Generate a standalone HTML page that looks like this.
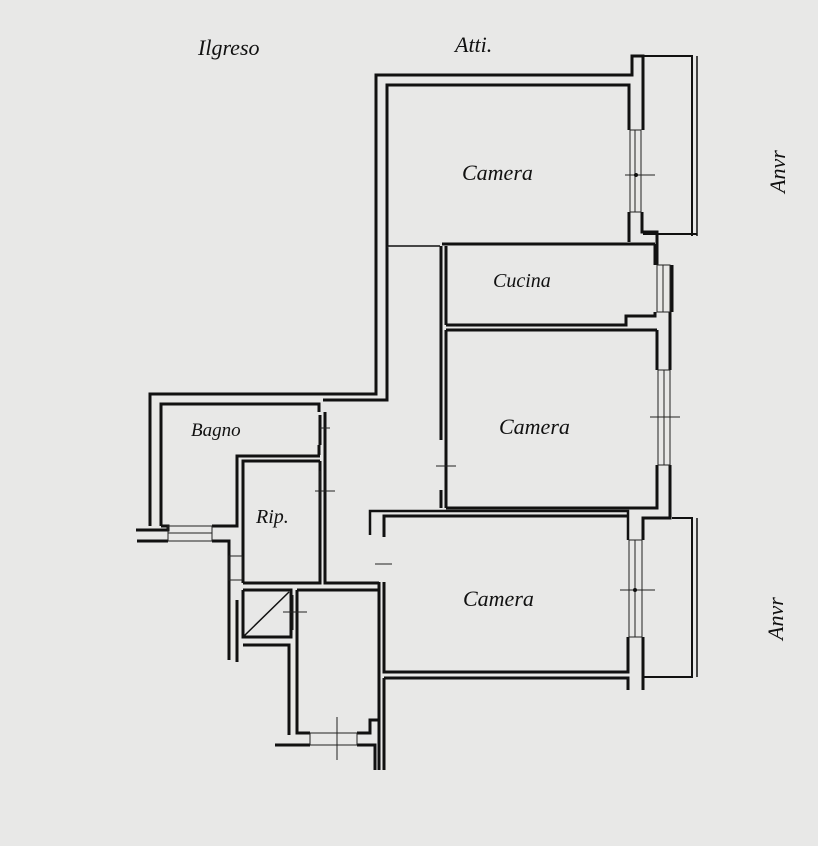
<!DOCTYPE html>
<html><head><meta charset="utf-8"><style>
html,body{margin:0;padding:0;background:#e8e8e7;}
svg{display:block}
text{font-family:"Liberation Serif",serif;font-style:italic;fill:#111}
</style></head><body>
<svg width="818" height="846" viewBox="0 0 818 846" xmlns="http://www.w3.org/2000/svg">
<rect width="818" height="846" fill="#e8e8e7"/>
<g fill="none" stroke="#111" stroke-width="3" stroke-linejoin="miter">
<!-- outer shell top -->
<polyline points="150,526 150,394 376,394 376,75 632,75 632,56 643,56 643,130"/>
<polyline points="161,526 161,404 319,404 319,412"/>
<polyline points="323,400 387,400 387,85 629,85 629,130"/>
<!-- top camera right -->
<polyline points="629,212 629,242"/>
<polyline points="642,212 642,232 657,232 657,265"/>
<!-- balcony top -->
<polyline points="643,56 692,56 692,236" stroke-width="2"/>
<line x1="697" y1="56" x2="697" y2="236" stroke-width="1.5"/>
<line x1="643" y1="234" x2="697" y2="234" stroke-width="2"/>
<!-- camera / cucina -->
<line x1="442" y1="244" x2="655" y2="244"/>
<line x1="388" y1="246" x2="440" y2="246" stroke-width="1.5"/>
<polyline points="655,244 655,265"/>
<polyline points="655,312 655,316 626,316 626,325 446,325"/>
<polyline points="672,265 672,312"/>
<polyline points="670,312 670,370"/>
<line x1="446" y1="330" x2="657" y2="330"/>
<polyline points="657,330 657,370"/>
<polyline points="657,465 657,508 446,508"/>
<polyline points="446,246 446,325"/>
<polyline points="441,246 441,440"/>
<polyline points="441,490 441,508"/>
<polyline points="446,330 446,508"/>
<polyline points="670,465 670,518 643,518 643,540"/>
<!-- camera 3 -->
<polyline points="370,535 370,511 628,511 628,540" stroke-width="2.5"/>
<polyline points="384,537 384,516 628,516"/>
<polyline points="628,637 628,672 384,672 384,582"/>
<polyline points="643,637 643,690"/>
<polyline points="379,582 379,770"/>
<polyline points="384,678 628,678 628,690"/>
<line x1="384" y1="678" x2="384" y2="770"/>
<!-- balcony bottom -->
<polyline points="672,518 692,518 692,677 643,677" stroke-width="2"/>
<line x1="697" y1="518" x2="697" y2="677" stroke-width="1.5"/>
<!-- bagno / rip -->
<line x1="319" y1="445" x2="319" y2="455"/>
<polyline points="161,526 161,526"/>
<polyline points="137,541 168,541"/>
<polyline points="212,541 229,541 229,660"/>
<polyline points="136,530 168,530 168,526 161,526"/>
<polyline points="212,526 237,526 237,456 320,456"/>
<polyline points="243,583 243,461 320,461"/>
<polyline points="320,461 320,583 243,583"/>
<polyline points="325,412 325,583 379,583"/>
<line x1="320" y1="415" x2="320" y2="445"/>
<!-- closet -->
<polyline points="243,590 291,590 291,637 243,637 243,590"/>
<line x1="244" y1="636" x2="289" y2="592" stroke-width="1.5"/>
<polyline points="243,645 289,645 289,735"/>
<polyline points="237,600 237,662"/>
<polyline points="297,590 379,590"/>
<polyline points="297,590 297,733 310,733"/>
<polyline points="357,733 370,733 370,720 379,720"/>
<polyline points="275,745 310,745"/>
<polyline points="357,745 375,745 375,770"/>
</g>
<!-- windows -->
<g stroke="#222" stroke-width="1" fill="none">
<rect x="630" y="130" width="11" height="82"/><line x1="635" y1="130" x2="635" y2="212"/>
<line x1="625" y1="175" x2="655" y2="175"/>
<rect x="657" y="265" width="13" height="47"/><line x1="663" y1="265" x2="663" y2="312"/>
<rect x="658" y="370" width="12" height="95"/><line x1="664" y1="370" x2="664" y2="465"/>
<line x1="650" y1="417" x2="680" y2="417"/>
<rect x="629" y="540" width="13" height="97"/><line x1="635" y1="540" x2="635" y2="637"/>
<line x1="620" y1="590" x2="655" y2="590"/>
<rect x="168" y="526" width="44" height="15"/><line x1="168" y1="533" x2="212" y2="533"/>
<rect x="229" y="556" width="13" height="24"/>
<rect x="310" y="733" width="47" height="12"/>
<line x1="337" y1="717" x2="337" y2="760"/>
<line x1="315" y1="491" x2="335" y2="491"/><line x1="320" y1="471" x2="320" y2="510"/>
<line x1="320" y1="428" x2="330" y2="428"/>
<line x1="436" y1="466" x2="456" y2="466"/>
<line x1="375" y1="564" x2="392" y2="564"/>
<line x1="283" y1="612" x2="307" y2="612"/><line x1="293" y1="595" x2="293" y2="630"/>
<line x1="388" y1="246" x2="388" y2="248"/>
</g>
<circle cx="636" cy="175" r="2" fill="#111"/><circle cx="635" cy="590" r="2" fill="#111"/>
<text x="462" y="180" font-size="22">Camera</text>
<text x="493" y="287" font-size="20">Cucina</text>
<text x="499" y="434" font-size="22">Camera</text>
<text x="463" y="606" font-size="22">Camera</text>
<text x="191" y="436" font-size="19">Bagno</text>
<text x="256" y="523" font-size="20">Rip.</text>
<text x="198" y="55" font-size="22">Ilgreso</text>
<text x="455" y="52" font-size="22">Atti.</text>
<text transform="translate(785,193) rotate(-90)" font-size="22">Anvr</text>
<text transform="translate(783,640) rotate(-90)" font-size="22">Anvr</text>
</svg>
</body></html>
